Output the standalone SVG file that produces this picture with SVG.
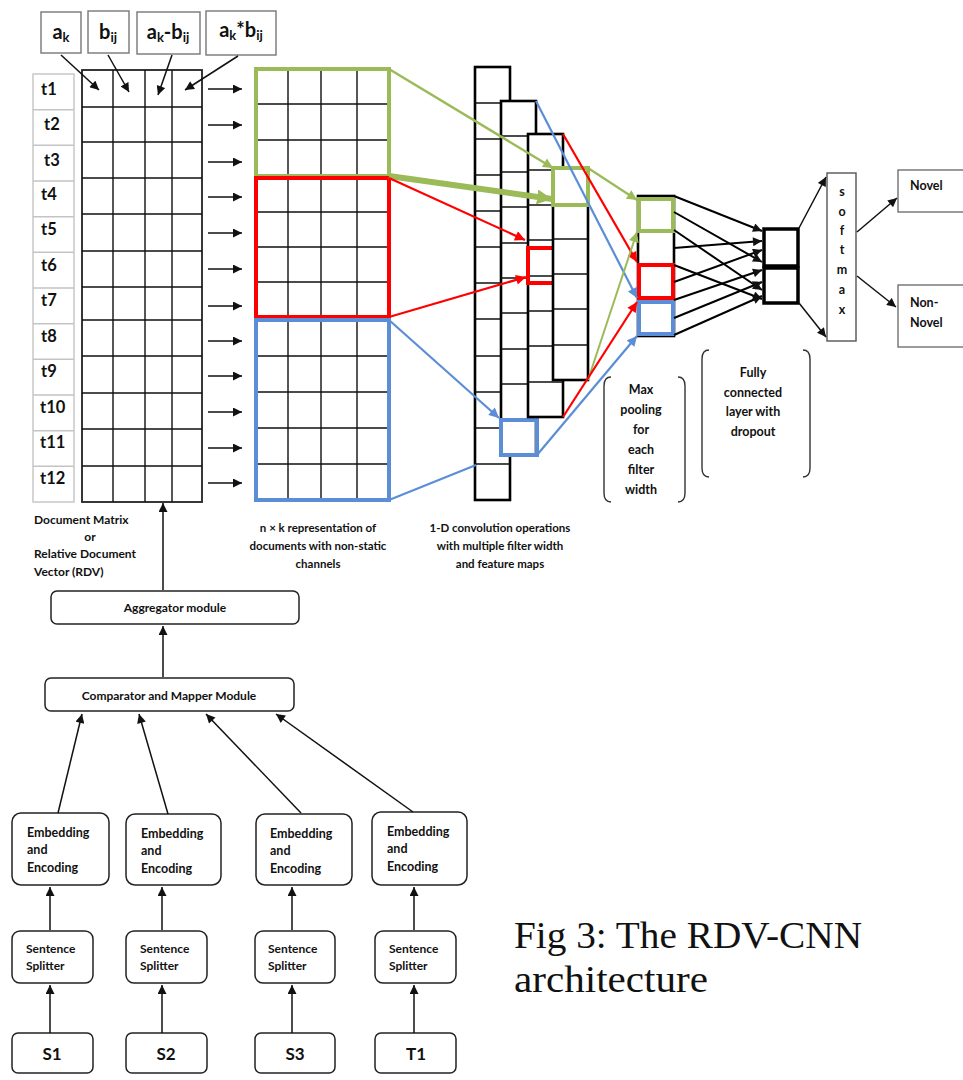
<svg xmlns="http://www.w3.org/2000/svg" width="963" height="1080" viewBox="0 0 963 1080">
  <style>
    .lbl{font-family:Lato,'Open Sans','Liberation Sans',sans-serif;font-weight:bold;fill:#111}
    .hdr{fill:#fff;stroke:#777;stroke-width:1.4}
    .tcell{fill:#fff;stroke:#c4c4c4;stroke-width:1.4}
    .rbox{fill:#fff;stroke:#222;stroke-width:1.5}
    .grid{stroke:#111;stroke-width:1.4;fill:none}
    .col{fill:#fff;stroke:#000;stroke-width:2.6}
    .cell{stroke:#111;stroke-width:1.5;fill:none}
    .g{stroke:#9BBB59}
    .r{stroke:#FF0000}
    .b{stroke:#5B8ED6}
    .frame{fill:none;stroke-width:4}
    .arr{stroke:#111;stroke-width:1.5;fill:none;marker-end:url(#ah)}
    .brk{fill:none;stroke:#333;stroke-width:1.4}
  </style>
  <defs>
    <marker id="ah" viewBox="0 0 10 10" refX="10" refY="5" markerWidth="10" markerHeight="9" orient="auto" markerUnits="userSpaceOnUse">
      <path d="M0,0 L10,5 L0,10 z" fill="#111"/>
    </marker>
    <marker id="ahg" viewBox="0 0 10 10" refX="10" refY="5" markerWidth="11" markerHeight="10" orient="auto" markerUnits="userSpaceOnUse">
      <path d="M0,0 L10,5 L0,10 z" fill="#9BBB59"/>
    </marker>
    <marker id="ahgBig" viewBox="0 0 10 10" refX="10" refY="5" markerWidth="15" markerHeight="15" orient="auto" markerUnits="userSpaceOnUse">
      <path d="M0,0 L10,5 L0,10 z" fill="#9BBB59"/>
    </marker>
    <marker id="ahr" viewBox="0 0 10 10" refX="10" refY="5" markerWidth="11" markerHeight="10" orient="auto" markerUnits="userSpaceOnUse">
      <path d="M0,0 L10,5 L0,10 z" fill="#FF0000"/>
    </marker>
    <marker id="ahb" viewBox="0 0 10 10" refX="10" refY="5" markerWidth="11" markerHeight="10" orient="auto" markerUnits="userSpaceOnUse">
      <path d="M0,0 L10,5 L0,10 z" fill="#5B8ED6"/>
    </marker>
  </defs>

  <rect width="963" height="1080" fill="#fff"/>

  <!-- feature header boxes -->
  <g id="hdr-ak">
    <rect class="hdr" x="41" y="12" width="40" height="41"/>
    <text class="lbl" x="61" y="39" font-size="20" text-anchor="middle">a<tspan font-size="13" dy="3">k</tspan></text>
  </g>
  <g id="hdr-bij">
    <rect class="hdr" x="88" y="11" width="41" height="42"/>
    <text class="lbl" x="108" y="39" font-size="20" text-anchor="middle">b<tspan font-size="13" dy="3">ij</tspan></text>
  </g>
  <g id="hdr-diff">
    <rect class="hdr" x="137" y="12" width="63" height="42"/>
    <text class="lbl" x="168" y="39" font-size="20" text-anchor="middle">a<tspan font-size="13" dy="3">k</tspan><tspan dy="-3">-b</tspan><tspan font-size="13" dy="3">ij</tspan></text>
  </g>
  <g id="hdr-prod">
    <rect class="hdr" x="206" y="11" width="70" height="44"/>
    <text class="lbl" x="241" y="37" font-size="20" text-anchor="middle">a<tspan font-size="13" dy="3">k</tspan><tspan dy="-3">*b</tspan><tspan font-size="13" dy="3">ij</tspan></text>
  </g>

  <!-- term labels t1..t12 -->
  <g id="terms">
    <rect class="tcell" x="33" y="74" width="41" height="428"/>
    <path d="M33,109.7H74 M33,145.3H74 M33,181H74 M33,216.7H74 M33,252.3H74 M33,288H74 M33,323.7H74 M33,359.3H74 M33,395H74 M33,430.7H74 M33,466.3H74" stroke="#c4c4c4" stroke-width="1.4"/>
    <g class="lbl" font-size="16.5">
      <text x="41" y="95">t1</text>
      <text x="44" y="130">t2</text>
      <text x="44" y="166">t3</text>
      <text x="41" y="200">t4</text>
      <text x="41" y="235">t5</text>
      <text x="41" y="271">t6</text>
      <text x="41" y="306">t7</text>
      <text x="41" y="342">t8</text>
      <text x="41" y="377">t9</text>
      <text x="40" y="413">t10</text>
      <text x="40" y="448">t11</text>
      <text x="40" y="484">t12</text>
    </g>
  </g>

  <!-- document matrix -->
  <g id="doc-matrix">
    <rect x="82" y="70" width="120" height="432" fill="#fff" stroke="#222" stroke-width="1.8"/>
    <path class="grid" d="M113,70V502 M145,70V502 M172,70V502 M82,107H202 M82,142H202 M82,178H202 M82,214H202 M82,251H202 M82,287H202 M82,320H202 M82,356H202 M82,393H202 M82,429H202 M82,466H202"/>
  </g>
  <g id="doc-matrix-label">
    <g class="lbl" font-size="12">
      <text x="34" y="524">Document Matrix</text>
      <text x="90" y="541" text-anchor="middle">or</text>
      <text x="34" y="558">Relative Document</text>
      <text x="34" y="576">Vector (RDV)</text>
    </g>
  </g>

  <!-- n x k representation with channels -->
  <g id="nk-matrix">
    <rect x="256" y="69" width="133" height="431" fill="#fff"/>
    <path class="grid" d="M288,69V500 M321,69V500 M357,69V500 M256,104H389 M256,140H389 M256,212H389 M256,247H389 M256,282H389 M256,356H389 M256,392H389 M256,428H389 M256,464H389"/>
    <rect class="frame g" x="256" y="69" width="133" height="107"/>
    <rect class="frame r" x="256" y="178" width="133" height="139"/>
    <rect class="frame b" x="256" y="320" width="133" height="180"/>
  </g>
  <g id="nk-label">
    <g class="lbl" font-size="11.5" text-anchor="middle">
      <text x="318" y="532">n × k representation of</text>
      <text x="318" y="550">documents with non-static</text>
      <text x="318" y="568">channels</text>
    </g>
  </g>

  <!-- convolution feature maps -->
  <g id="conv-maps">
    <g id="map1">
      <rect class="col" x="475" y="67" width="35" height="433"/>
      <path class="cell" d="M475,103H510 M475,139H510 M475,175H510 M475,211H510 M475,247H510 M475,283H510 M475,319H510 M475,356H510 M475,392H510 M475,428H510 M475,464H510"/>
    </g>
    <g id="map2">
      <rect class="col" x="501" y="101" width="35" height="354"/>
      <path class="cell" d="M501,136H536 M501,172H536 M501,207H536 M501,243H536 M501,278H536 M501,313H536 M501,349H536 M501,384H536"/>
      <rect class="frame b" x="501" y="420" width="36" height="35"/>
    </g>
    <g id="map3">
      <rect class="col" x="528" y="134" width="35" height="283"/>
      <path class="cell" d="M528,170H563 M528,205H563 M528,240H563 M528,276H563 M528,311H563 M528,346H563 M528,382H563"/>
      <rect class="frame r" x="528" y="248" width="27" height="35"/>
    </g>
    <g id="map4">
      <rect class="col" x="553" y="168" width="35" height="212"/>
      <path class="cell" d="M553,239H588 M553,274H588 M553,309H588 M553,345H588"/>
      <rect class="frame g" x="553" y="168" width="35" height="37"/>
    </g>
  </g>
  <g id="conv-label">
    <g class="lbl" font-size="11.5" text-anchor="middle">
      <text x="500" y="532">1-D convolution operations</text>
      <text x="500" y="550">with multiple filter width</text>
      <text x="500" y="568">and feature maps</text>
    </g>
  </g>

  <!-- max pooling column -->
  <g id="max-pool">
    <rect x="638" y="196" width="36" height="140" fill="#fff" stroke="#000" stroke-width="2.6"/>
    <rect class="frame g" x="639" y="199" width="34" height="32"/>
    <rect class="frame r" x="639" y="265" width="34" height="33"/>
    <rect class="frame b" x="639" y="302" width="34" height="32"/>
  </g>
  <g id="max-pool-label">
    <path class="brk" d="M611,377 Q604,377 604,386 L604,493 Q604,502 611,502"/>
    <path class="brk" d="M678,377 Q685,377 685,386 L685,493 Q685,502 678,502"/>
    <g class="lbl" font-size="12.5" text-anchor="middle">
      <text x="641" y="394">Max</text>
      <text x="641" y="414">pooling</text>
      <text x="641" y="434">for</text>
      <text x="641" y="454">each</text>
      <text x="641" y="474">filter</text>
      <text x="641" y="494">width</text>
    </g>
  </g>

  <!-- fully connected layer -->
  <g id="fc-layer">
    <rect x="764" y="229" width="34" height="37" fill="#fff" stroke="#000" stroke-width="3.5"/>
    <rect x="764" y="268" width="34" height="35" fill="#fff" stroke="#000" stroke-width="3.5"/>
  </g>
  <g id="fc-label">
    <path class="brk" d="M709,350 Q702,350 702,359 L702,468 Q702,477 709,477"/>
    <path class="brk" d="M803,350 Q810,350 810,359 L810,468 Q810,477 803,477"/>
    <g class="lbl" font-size="12.5" text-anchor="middle">
      <text x="753" y="377">Fully</text>
      <text x="753" y="397">connected</text>
      <text x="753" y="416">layer with</text>
      <text x="753" y="436">dropout</text>
    </g>
  </g>

  <!-- softmax and outputs -->
  <g id="softmax">
    <rect x="827" y="173" width="29" height="168" fill="#fff" stroke="#555" stroke-width="1.4"/>
    <g class="lbl" font-size="12.5" text-anchor="middle">
      <text x="842" y="196">s</text>
      <text x="842" y="216">o</text>
      <text x="842" y="235">f</text>
      <text x="842" y="254">t</text>
      <text x="842" y="274">m</text>
      <text x="842" y="294">a</text>
      <text x="842" y="314">x</text>
    </g>
  </g>
  <g id="out-novel">
    <rect x="898" y="170" width="70" height="42" fill="#fff" stroke="#666" stroke-width="1.3"/>
    <text class="lbl" x="910" y="190" font-size="12.5">Novel</text>
  </g>
  <g id="out-nonnovel">
    <rect x="898" y="285" width="70" height="62" fill="#fff" stroke="#666" stroke-width="1.3"/>
    <text class="lbl" x="910" y="307" font-size="12.5">Non-</text>
    <text class="lbl" x="910" y="327" font-size="12.5">Novel</text>
  </g>

  <!-- preprocessing pipeline -->
  <g id="aggregator">
    <rect class="rbox" x="51" y="591" width="248" height="33" rx="6"/>
    <text class="lbl" x="175" y="612" font-size="12" text-anchor="middle">Aggregator module</text>
  </g>
  <g id="comparator">
    <rect class="rbox" x="45" y="678" width="249" height="33" rx="6"/>
    <text class="lbl" x="169" y="700" font-size="12" text-anchor="middle">Comparator and Mapper Module</text>
  </g>
  <g id="embed-1">
    <rect class="rbox" x="12" y="813" width="97" height="72" rx="9"/>
    <g class="lbl" font-size="12.5"><text x="27" y="837">Embedding</text><text x="27" y="854">and</text><text x="27" y="872">Encoding</text></g>
  </g>
  <g id="embed-2">
    <rect class="rbox" x="126" y="814" width="95" height="71" rx="9"/>
    <g class="lbl" font-size="12.5"><text x="141" y="838">Embedding</text><text x="141" y="855">and</text><text x="141" y="873">Encoding</text></g>
  </g>
  <g id="embed-3">
    <rect class="rbox" x="256" y="814" width="96" height="71" rx="9"/>
    <g class="lbl" font-size="12.5"><text x="270" y="838">Embedding</text><text x="270" y="855">and</text><text x="270" y="873">Encoding</text></g>
  </g>
  <g id="embed-4">
    <rect class="rbox" x="372" y="812" width="95" height="73" rx="9"/>
    <g class="lbl" font-size="12.5"><text x="387" y="836">Embedding</text><text x="387" y="853">and</text><text x="387" y="871">Encoding</text></g>
  </g>
  <g id="split-1">
    <rect class="rbox" x="12" y="931" width="81" height="52" rx="8"/>
    <g class="lbl" font-size="12"><text x="26" y="953">Sentence</text><text x="26" y="970">Splitter</text></g>
  </g>
  <g id="split-2">
    <rect class="rbox" x="126" y="931" width="81" height="52" rx="8"/>
    <g class="lbl" font-size="12"><text x="140" y="953">Sentence</text><text x="140" y="970">Splitter</text></g>
  </g>
  <g id="split-3">
    <rect class="rbox" x="255" y="931" width="80" height="52" rx="8"/>
    <g class="lbl" font-size="12"><text x="268" y="953">Sentence</text><text x="268" y="970">Splitter</text></g>
  </g>
  <g id="split-4">
    <rect class="rbox" x="375" y="931" width="81" height="52" rx="8"/>
    <g class="lbl" font-size="12"><text x="389" y="953">Sentence</text><text x="389" y="970">Splitter</text></g>
  </g>
  <g id="src-s1">
    <rect class="rbox" x="12" y="1033" width="81" height="40" rx="6"/>
    <text class="lbl" x="52" y="1060" font-size="17" text-anchor="middle">S1</text>
  </g>
  <g id="src-s2">
    <rect class="rbox" x="126" y="1033" width="81" height="40" rx="6"/>
    <text class="lbl" x="166" y="1060" font-size="17" text-anchor="middle">S2</text>
  </g>
  <g id="src-s3">
    <rect class="rbox" x="255" y="1033" width="80" height="40" rx="6"/>
    <text class="lbl" x="295" y="1060" font-size="17" text-anchor="middle">S3</text>
  </g>
  <g id="src-t1">
    <rect class="rbox" x="375" y="1033" width="81" height="40" rx="6"/>
    <text class="lbl" x="416" y="1060" font-size="17" text-anchor="middle">T1</text>
  </g>

  <!-- caption -->
  <g id="caption" font-family="'Liberation Serif','DejaVu Serif',serif" font-size="37" fill="#111">
    <text x="514" y="948" textLength="348" lengthAdjust="spacingAndGlyphs">Fig 3: The RDV-CNN</text>
    <text x="514" y="992" textLength="194" lengthAdjust="spacingAndGlyphs">architecture</text>
  </g>

  <!-- connectors -->
  <g id="connectors">
    <!-- header features into the first matrix row -->
    <path class="arr" d="M61,55 L99,90"/>
    <path class="arr" d="M108,55 L129,92"/>
    <path class="arr" d="M172,55 L158,95"/>
    <path class="arr" d="M238,56 L185,90"/>
    <!-- row-wise projection arrows -->
    <path class="arr" d="M208,89H242"/>
    <path class="arr" d="M208,125H242"/>
    <path class="arr" d="M208,162H242"/>
    <path class="arr" d="M208,197H242"/>
    <path class="arr" d="M208,233H242"/>
    <path class="arr" d="M208,269H242"/>
    <path class="arr" d="M208,306H242"/>
    <path class="arr" d="M208,341H242"/>
    <path class="arr" d="M208,376H242"/>
    <path class="arr" d="M208,412H242"/>
    <path class="arr" d="M208,448H242"/>
    <path class="arr" d="M208,483H242"/>

    <!-- channel windows into feature maps -->
    <path d="M389,69 L553,168" stroke="#9BBB59" stroke-width="2.5" fill="none" marker-end="url(#ahg)"/>
    <path d="M389,176 L552,199" stroke="#9BBB59" stroke-width="6" fill="none" marker-end="url(#ahgBig)"/>
    <path d="M389,178 L525,240" stroke="#FF0000" stroke-width="2.2" fill="none" marker-end="url(#ahr)"/>
    <path d="M389,317 L526,277" stroke="#FF0000" stroke-width="2.2" fill="none" marker-end="url(#ahr)"/>
    <path d="M389,320 L499,418" stroke="#5B8ED6" stroke-width="2.2" fill="none" marker-end="url(#ahb)"/>
    <path d="M389,500 L476,465" stroke="#5B8ED6" stroke-width="2.2" fill="none"/>

    <!-- feature maps into max pooling -->
    <path d="M588,168 L637,200" stroke="#9BBB59" stroke-width="2.2" fill="none" marker-end="url(#ahg)"/>
    <path d="M536,101 L637,298" stroke="#5B8ED6" stroke-width="2.2" fill="none" marker-end="url(#ahb)"/>
    <path d="M563,134 L637,262" stroke="#FF0000" stroke-width="2.2" fill="none" marker-end="url(#ahr)"/>
    <path d="M588,380 L637,232" stroke="#9BBB59" stroke-width="2" fill="none" marker-end="url(#ahg)"/>
    <path d="M563,417 L637,302" stroke="#FF0000" stroke-width="2.2" fill="none" marker-end="url(#ahr)"/>
    <path d="M537,455 L637,336" stroke="#5B8ED6" stroke-width="2.2" fill="none" marker-end="url(#ahb)"/>

    <!-- max pooling into fully connected layer -->
    <g stroke="#000" stroke-width="2" fill="none" marker-end="url(#ah)">
      <path d="M674,196 L762,231"/>
      <path d="M674,212 L762,262"/>
      <path d="M674,230 L762,290"/>
      <path d="M674,248 L762,241"/>
      <path d="M674,265 L762,299"/>
      <path d="M674,282 L762,250"/>
      <path d="M674,300 L762,270"/>
      <path d="M674,318 L762,282"/>
      <path d="M674,335 L762,296"/>
    </g>

    <!-- fully connected into softmax, softmax into outputs -->
    <path class="arr" d="M799,228 L826,177"/>
    <path class="arr" d="M799,303 L826,337"/>
    <path class="arr" d="M857,232 L897,198"/>
    <path class="arr" d="M857,276 L896,307"/>

    <!-- pipeline -->
    <path class="arr" d="M163,590 V503"/>
    <path class="arr" d="M163,677 V626"/>
    <path class="arr" d="M58,813 L82,714"/>
    <path class="arr" d="M168,814 L139,714"/>
    <path class="arr" d="M301,813 L206,714"/>
    <path class="arr" d="M413,812 L276,714"/>
    <path class="arr" d="M50,930 V887"/>
    <path class="arr" d="M162,930 V887"/>
    <path class="arr" d="M292,930 V887"/>
    <path class="arr" d="M414,930 V887"/>
    <path class="arr" d="M50,1033 V985"/>
    <path class="arr" d="M162,1033 V985"/>
    <path class="arr" d="M292,1033 V985"/>
    <path class="arr" d="M414,1033 V985"/>
  </g>
</svg>
